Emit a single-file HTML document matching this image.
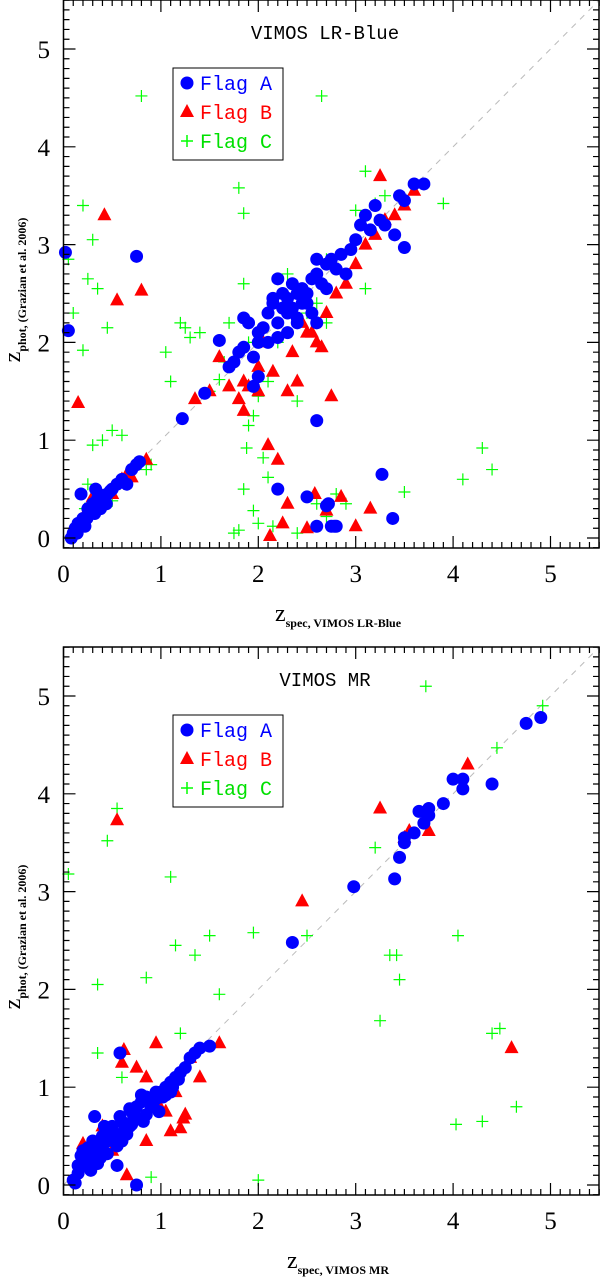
<!DOCTYPE html>
<html><head><meta charset="utf-8"><style>
body{margin:0;background:#fff;width:602px;height:1277px;overflow:hidden}
svg{display:block}
text{font-family:"Liberation Serif",serif;fill:#000}
text.mono{font-family:"Liberation Mono",monospace}
</style></head><body>
<svg id="s" width="602" height="1277" xmlns="http://www.w3.org/2000/svg"></svg>
<script>
// Panel 1 data (LR-Blue)
const p1A_x=[0.02,0.05,0.75,0.1,0.12,0.15,0.2,0.25,0.3,0.35,0.4,0.45,0.5,0.55,0.6,0.65,0.7,0.75,0.78,0.18,0.22,0.28,0.33,0.38,0.42,0.48,1.22,1.45,1.6,1.7,1.75,1.8,1.85,1.9,1.95,2.0,2.05,2.1,2.15,2.2,2.25,2.3,2.35,2.4,2.45,2.5,2.55,2.6,2.65,2.7,2.75,2.8,2.85,2.9,2.95,3.0,3.05,3.1,3.15,3.2,3.25,3.3,3.4,3.45,3.5,3.6,3.7,1.85,2.0,2.1,2.2,2.3,2.4,2.5,2.6,2.7,2.2,2.35,2.45,2.55,2.15,2.25,2.6,1.95,2.0,2.3,2.4,2.6,2.7,2.75,2.8,3.27,3.38,2.6,2.72,2.78,3.5,2.2,2.5,0.08,0.14,0.24,0.32,0.36,0.44];
const p1A_y=[2.92,2.12,2.88,0.05,0.1,0.15,0.2,0.3,0.35,0.4,0.38,0.45,0.5,0.55,0.6,0.55,0.7,0.75,0.78,0.45,0.12,0.25,0.5,0.3,0.42,0.48,1.22,1.48,2.02,1.75,1.8,1.9,2.25,2.2,1.85,2.1,2.15,2.3,2.4,2.2,2.5,2.45,2.35,2.5,2.55,2.4,2.65,2.7,2.6,2.8,2.85,2.75,2.9,2.7,2.95,3.05,3.2,3.3,3.15,3.4,3.25,3.2,3.1,3.5,3.45,3.62,3.62,1.95,1.65,2.0,2.65,2.3,2.2,2.5,2.2,2.55,2.05,2.6,2.4,2.3,2.45,2.35,2.85,1.55,2.0,2.1,2.25,1.2,0.33,0.12,0.12,0.65,0.2,0.12,0.35,0.12,2.97,0.5,0.42,0.0,0.05,0.2,0.25,0.45,0.35];
const p1B_x=[0.42,0.15,0.55,0.8,0.85,0.4,0.5,0.6,0.65,0.7,0.25,0.3,1.35,1.5,1.6,1.7,1.8,1.85,1.9,2.0,2.1,2.2,2.3,2.4,2.5,2.6,2.7,2.8,2.9,3.0,3.1,3.2,3.3,3.4,3.5,3.6,3.25,2.05,2.15,2.35,2.45,2.55,2.65,2.75,2.12,2.25,2.5,2.58,2.3,2.7,2.85,3.0,3.15,2.0,1.85];
const p1B_y=[3.3,1.38,2.43,2.53,0.8,0.35,0.45,0.6,0.65,0.62,0.3,0.42,1.42,1.5,1.85,1.55,1.42,1.3,1.55,1.5,0.95,0.8,1.5,1.6,2.1,2.0,2.3,2.5,2.6,2.8,3.0,3.1,3.25,3.3,3.4,3.55,3.7,2.0,1.7,1.9,2.2,2.1,1.95,1.45,0.02,0.15,0.1,0.45,0.35,0.28,0.42,0.12,0.3,1.75,1.6];
const p1C_x=[0.05,0.1,0.2,0.25,0.3,0.35,0.4,0.45,0.5,0.6,0.8,0.85,0.9,1.05,1.1,1.2,1.25,1.3,1.4,1.5,1.6,1.7,1.75,1.8,1.85,1.9,1.95,2.0,2.05,2.1,2.2,2.3,2.4,2.5,2.6,2.65,2.7,2.8,2.9,3.0,3.1,3.2,3.3,3.5,3.9,4.1,4.3,4.4,0.2,0.25,0.3,2.3,2.5,2.7,1.85,1.9,1.8,2.1,1.95,2.15,2.4,2.6,2.7,3.1,1.85,1.88,2.0,0.22,0.33,0.5,1.65];
const p1C_y=[2.85,2.3,1.92,2.65,3.05,2.55,1.0,2.15,1.1,1.05,4.52,0.7,0.75,1.9,1.6,2.2,2.15,2.05,2.1,1.5,1.62,2.2,0.05,3.58,3.32,2.0,1.25,1.45,0.82,1.6,2.0,2.4,1.4,2.5,2.4,4.52,2.85,0.45,0.35,3.35,3.75,3.42,3.5,0.47,3.42,0.6,0.92,0.7,3.4,0.55,0.95,2.7,2.3,2.2,2.6,1.15,0.08,0.62,0.28,0.12,0.05,0.35,0.22,2.55,0.5,0.92,0.15,0.3,0.42,0.38,1.8];
// Panel 2 data (MR)
const p2A_x=[0.1,0.15,0.2,0.25,0.3,0.32,0.35,0.4,0.45,0.5,0.55,0.6,0.65,0.7,0.75,0.8,0.85,0.9,0.95,1.0,1.05,1.1,1.15,1.2,1.25,1.3,1.35,1.4,1.5,0.58,0.75,0.32,0.22,0.28,0.42,0.52,0.62,0.72,0.82,0.92,1.02,0.98,0.55,2.35,2.98,3.4,3.45,3.5,3.5,3.6,3.65,3.7,3.75,3.75,3.9,4.0,4.1,4.1,4.4,4.75,4.9,0.12,0.18,0.38,0.48,0.68,0.88,1.12,0.25,0.35,0.45,0.55,0.65,0.7,0.78,0.85,0.9,0.95,1.05,1.1,1.18,0.4,0.5,0.6,0.3,0.2,0.15,0.8,0.68,0.58];
const p2A_y=[0.05,0.12,0.2,0.25,0.28,0.7,0.35,0.4,0.45,0.55,0.5,0.65,0.6,0.75,0.8,0.85,0.9,0.85,0.95,0.95,1.0,1.05,1.1,1.15,1.2,1.3,1.35,1.4,1.42,1.35,0.0,0.4,0.3,0.15,0.6,0.45,0.55,0.7,0.65,0.8,0.9,0.75,0.2,2.48,3.05,3.13,3.35,3.5,3.55,3.6,3.82,3.7,3.85,3.78,3.9,4.15,4.05,4.15,4.1,4.72,4.78,0.02,0.3,0.28,0.5,0.6,0.88,1.0,0.38,0.22,0.32,0.4,0.52,0.62,0.68,0.72,0.8,0.88,0.92,0.95,1.08,0.5,0.6,0.45,0.45,0.35,0.2,0.92,0.78,0.7];
const p2B_x=[0.55,0.6,0.65,0.75,0.85,1.0,1.05,1.1,1.2,1.25,1.3,1.4,1.6,0.62,0.5,0.95,1.23,2.45,3.25,3.5,3.55,3.75,4.15,4.6,0.2,0.4,0.85,1.15];
const p2B_y=[3.73,1.25,0.1,1.2,0.45,0.78,0.75,0.55,0.58,0.72,1.3,1.1,1.45,1.38,0.35,1.45,0.68,2.9,3.85,3.55,3.62,3.62,4.3,1.4,0.42,0.6,1.1,0.95];
const p2C_x=[0.05,0.45,0.55,0.35,0.35,0.85,1.15,1.1,1.35,1.5,1.6,1.95,2.0,2.5,3.2,3.25,3.35,3.42,3.45,3.72,4.05,4.03,4.3,4.4,4.45,4.48,4.65,4.92,0.6,0.9,1.2];
const p2C_y=[3.18,3.52,3.85,2.05,1.35,2.12,2.45,3.15,2.35,2.55,1.95,2.58,0.05,2.55,3.45,1.68,2.35,2.35,2.1,5.1,2.55,0.62,0.65,1.55,4.47,1.6,0.8,4.9,1.1,0.08,1.55];

const S=document.getElementById('s');
const NS='http://www.w3.org/2000/svg';
function mk(t,a,p){const e=document.createElementNS(NS,t);for(const k in a)e.setAttribute(k,a[k]);(p||S).appendChild(e);return e;}
const L=63.5,R=599,U=97.4;
const sx=v=>L+v*U;
function panel(top,title,xsub,A_x,A_y,B_x,B_y,C_x,C_y,pre){
  const bot=top+548, y0=top+538;
  const sy=v=>y0-v*97.8;
  const g=mk('g',{});
  
  
  const d=mk('line',{x1:sx(0),y1:sy(0),x2:R,y2:sy((R-L)/U),stroke:'#bbb','stroke-dasharray':'6,6','stroke-width':1},g);
  
  
  for(let i=0;i<C_x.length;i++){const x=sx(C_x[i]),y=sy(C_y[i]);
    const p=mk('path',{d:`M${x-6},${y}H${x+6}M${x},${y-6}V${y+6}`,stroke:'#00ff00','stroke-width':1.2,fill:'none'},g);
    
    }
  for(let i=0;i<B_x.length;i++){const x=sx(B_x[i]),y=sy(B_y[i]);
    const p=mk('polygon',{points:`${x},${y-8} ${x-7},${y+5} ${x+7},${y+5}`,fill:'#ff0000'},g);
    
    }
  for(let i=0;i<A_x.length;i++){
    const p=mk('circle',{cx:sx(A_x[i]),cy:sy(A_y[i]),r:6.5,fill:'#0000ff'},g);
    
    }
  const f=mk('rect',{x:L,y:top,width:R-L,height:548,fill:'none',stroke:'#000','stroke-width':1.5},g);
  
  
  let t='';
  for(let v=0;v<=5.5001;v+=0.1){const x=sx(v);const big=Math.abs(v-Math.round(v))<1e-6;const l=big?12:6;
    t+=`M${x},${bot}v${-l}M${x},${top}v${l}`;}
  for(let v=-0.1;v<=5.5001;v+=0.1){const y=sy(v);if(y<top||y>bot)continue;const big=Math.abs(v-Math.round(v))<1e-6;const l=big?12:6;
    t+=`M${L},${y}h${l}M${R},${y}h${-l}`;}
  const tk=mk('path',{d:t,stroke:'#000','stroke-width':1.2,fill:'none'},g);
  
  
  for(let v=0;v<=5;v++){
    const a=mk('text',{x:sx(v),y:bot+34,'font-size':25,'text-anchor':'middle'},g);a.textContent=v;
    
    
    const b=mk('text',{x:50,y:sy(v)+9,'font-size':25,'text-anchor':'end'},g);b.textContent=v;
    
    
  }
  const ti=mk('text',{x:325,y:top+39,'font-size':19,'text-anchor':'middle',class:'mono'},g);ti.textContent=title;
  
  
  const lb=mk('rect',{x:173,y:top+68,width:110,height:92,fill:'#fff',stroke:'#000','stroke-width':1},g);
  
  
  const items=[['Flag A','#0000ff'],['Flag B','#ff0000'],['Flag C','#00e000']];
  items.forEach((it,k)=>{const yy=top+83+k*29;
    if(k==0)mk('circle',{cx:187,cy:yy,r:6.5,fill:'#0000ff'},g);
    if(k==1)mk('polygon',{points:`187,${yy-8} 180,${yy+5} 194,${yy+5}`,fill:'#ff0000'},g);
    if(k==2)mk('path',{d:`M181,${yy}h12M187,${yy-6}v12`,stroke:'#00ff00','stroke-width':1.5},g);
    const tx=mk('text',{x:200,y:yy+7,'font-size':20,fill:it[1],class:'mono',style:'fill:'+it[1]},g);tx.textContent=it[0];
    
    
  });
  const xl=mk('text',{x:338,y:bot+73,'font-size':24,'text-anchor':'middle'},g);
  xl.innerHTML=`z<tspan font-size="12" dy="6" font-weight="bold">spec, ${xsub}</tspan>`;
  
  
  const yl=mk('text',{x:0,y:0,'font-size':24,'text-anchor':'middle',transform:`translate(20,${top+290}) rotate(-90)`},g);
  yl.innerHTML=`z<tspan font-size="12" dy="6" font-weight="bold">phot, (Grazian et al. 2006)</tspan>`;
  
  
}
panel(0,'VIMOS LR-Blue','VIMOS LR-Blue',p1A_x,p1A_y,p1B_x,p1B_y,p1C_x,p1C_y,'lr-blue');
panel(647,'VIMOS MR','VIMOS MR',p2A_x,p2A_y,p2B_x,p2B_y,p2C_x,p2C_y,'mr');
</script>
</body></html>
